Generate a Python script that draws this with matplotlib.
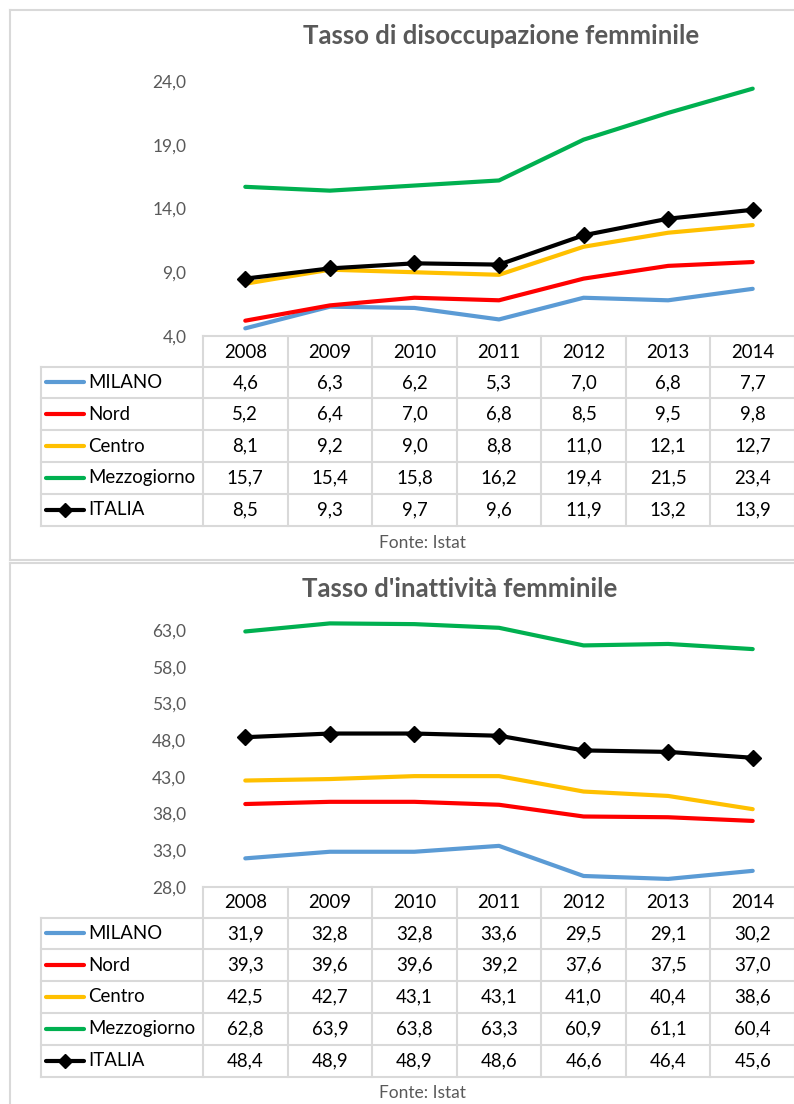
import numpy as np
import matplotlib.pyplot as plt

years = ["2008", "2009", "2010", "2011", "2012", "2013", "2014"]
series = ["MILANO", "Nord", "Centro", "Mezzogiorno", "ITALIA"]
colors = ["#5B9BD5", "#FF0000", "#FFC000", "#00B050", "#000000"]

disocc_milano = [4.6, 6.3, 6.2, 5.3, 7.0, 6.8, 7.7]
disocc_nord = [5.2, 6.4, 7.0, 6.8, 8.5, 9.5, 9.8]
disocc_centro = [8.1, 9.2, 9.0, 8.8, 11.0, 12.1, 12.7]
disocc_mezzo = [15.7, 15.4, 15.8, 16.2, 19.4, 21.5, 23.4]
disocc_italia = [8.5, 9.3, 9.7, 9.6, 11.9, 13.2, 13.9]

inatt_milano = [31.9, 32.8, 32.8, 33.6, 29.5, 29.1, 30.2]
inatt_nord = [39.3, 39.6, 39.6, 39.2, 37.6, 37.5, 37.0]
inatt_centro = [42.5, 42.7, 43.1, 43.1, 41.0, 40.4, 38.6]
inatt_mezzo = [62.8, 63.9, 63.8, 63.3, 60.9, 61.1, 60.4]
inatt_italia = [48.4, 48.9, 48.9, 48.6, 46.6, 46.4, 45.6]

W, H = 794, 1104
GRID = "#D9D9D9"
GREY = "#595959"
FONT = ["Lato", "DejaVu Sans"]
plt.rcParams["font.family"] = FONT

fig = plt.figure(figsize=(W / 100, H / 100), dpi=100)
ov = fig.add_axes([0, 0, 1, 1])
ov.set_xlim(0, W)
ov.set_ylim(H, 0)
ov.axis("off")


def fmt(v):
    return f"{v:.1f}".replace(".", ",")


def panel(title, title_x, top, plot_top, plot_bot, ymin, ymax, step, data):
    # chart frame
    ov.plot([10, 10], [top, top + 550], color=GRID, lw=1.5)
    ov.plot([10, W], [top, top], color=GRID, lw=1.5)
    ov.plot([10, W], [top + 550, top + 550], color=GRID, lw=1.5)
    ov.text(title_x, top + 26, title, ha="center", va="center",
            fontsize=18.5, fontweight="bold", color=GREY)

    # plot area
    x0, x1 = 203, 795
    ax = fig.add_axes([x0 / W, 1 - plot_bot / H, (x1 - x0) / W,
                       (plot_bot - plot_top) / H])
    ax.patch.set_alpha(0)
    xs = np.arange(len(years))
    for name, vals, c in zip(series, data, colors):
        if name == "ITALIA":
            ax.plot(xs, vals, color=c, lw=3, marker="D", ms=8.5, clip_on=False, zorder=5)
        else:
            ax.plot(xs, vals, color=c, lw=3, clip_on=False, solid_capstyle="round")
    ax.set_xlim(-0.5, len(years) - 0.5)
    ax.set_ylim(ymin, ymax)
    ticks = np.arange(ymin, ymax + 0.01, step)
    ax.set_yticks(ticks)
    ax.set_yticklabels([fmt(t) for t in ticks], color=GREY, fontsize=12.5)
    ax.tick_params(axis="y", length=0, pad=12)
    ax.set_xticks([])
    for s in ax.spines.values():
        s.set_visible(False)

    # data table
    colw = (x1 - x0) / len(years)
    rowh = 31.8
    hdr_top = plot_bot
    rows_top = hdr_top + 30.5
    bottom = rows_top + rowh * len(series)
    lbl_x = 40.5
    # horizontals
    ov.plot([x0, x1], [hdr_top, hdr_top], color=GRID, lw=1.5)
    for i in range(len(series) + 1):
        y = rows_top + i * rowh
        ov.plot([lbl_x, x1], [y, y], color=GRID, lw=1.5)
    # verticals
    ov.plot([lbl_x, lbl_x], [rows_top, bottom], color=GRID, lw=1.5)
    for k in range(len(years) + 1):
        x = x0 + k * colw
        ov.plot([x, x], [hdr_top, bottom], color=GRID, lw=1.5)
    for k, yr in enumerate(years):
        ov.text(x0 + (k + 0.5) * colw, hdr_top + 16, yr, ha="center",
                va="center", fontsize=13.4, color="black")
    for i, (name, vals, c) in enumerate(zip(series, data, colors)):
        yc = rows_top + (i + 0.5) * rowh
        ov.plot([46, 84], [yc, yc], color=c, lw=3, solid_capstyle="round")
        if name == "ITALIA":
            ov.plot([65], [yc], marker="D", color=c, ms=7.5)
        ov.text(88, yc, name, ha="left", va="center", fontsize=13.4, color="black")
        for k, v in enumerate(vals):
            ov.text(x0 + (k + 0.5) * colw, yc, fmt(v), ha="center",
                    va="center", fontsize=13.4, color="black")
    ov.text(422, bottom + 17, "Fonte: Istat", ha="center", va="center",
            fontsize=12.5, color=GREY)


panel("Tasso di disoccupazione femminile", 501, 10, 81, 336, 4.0, 24.0, 5.0,
      [disocc_milano, disocc_nord, disocc_centro, disocc_mezzo, disocc_italia])
panel("Tasso d'inattività femminile", 460, 563, 630, 887, 28.0, 63.0, 5.0,
      [inatt_milano, inatt_nord, inatt_centro, inatt_mezzo, inatt_italia])

fig.savefig("out.png", dpi=100)
